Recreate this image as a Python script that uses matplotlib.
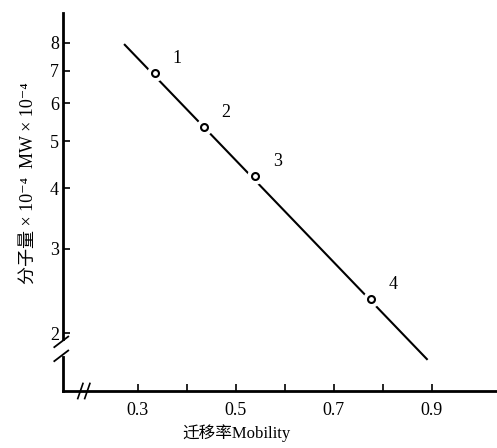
import matplotlib
matplotlib.use("Agg")
import matplotlib.pyplot as plt
from matplotlib.ticker import FixedLocator, NullLocator, FixedFormatter

# data
mobility = [0.335, 0.435, 0.539, 0.776]
mw = [6.93, 5.36, 4.25, 2.36]
point_labels = ["1", "2", "3", "4"]
fit_x = [0.274, 0.890]
fit_y = [7.93, 1.77]

x_major = [0.3, 0.5, 0.7, 0.9]
x_minor = [0.4, 0.6, 0.8]
y_ticks = [2, 3, 4, 5, 6, 7, 8]

fam = ["Liberation Serif", "Noto Sans CJK SC", "DejaVu Sans"]
plt.rcParams["font.family"] = fam

fig = plt.figure(figsize=(4.97, 4.48), dpi=100)
ax = fig.add_axes([63 / 497, 1 - 391 / 448, 434 / 497, 378 / 448])

ax.set_yscale("log")
ax.set_xlim(0.148, 1.033)
ax.set_ylim(1.52, 9.23)

# fitted line, broken around the open circles
ax.plot(fit_x, fit_y, color="black", lw=1.5, zorder=2)
ax.plot(mobility, mw, ls="none", marker="o", ms=11, mfc="white", mec="white", zorder=3)
ax.plot(mobility, mw, ls="none", marker="o", ms=5, mfc="white", mec="black", mew=1.5, zorder=4)
for x, y, s in zip(mobility, mw, point_labels):
    ax.annotate(s, (x, y), xytext=(18, 6), textcoords="offset pixels",
                fontsize=13, ha="left", va="bottom")

for s in ["top", "right"]:
    ax.spines[s].set_visible(False)
for s in ["left", "bottom"]:
    ax.spines[s].set_linewidth(2)

ax.xaxis.set_major_locator(FixedLocator(x_major))
ax.xaxis.set_minor_locator(FixedLocator(x_minor))
ax.xaxis.set_major_formatter(FixedFormatter([str(v) for v in x_major]))
ax.yaxis.set_major_locator(FixedLocator(y_ticks))
ax.yaxis.set_minor_locator(NullLocator())
ax.yaxis.set_major_formatter(FixedFormatter([str(v) for v in y_ticks]))
ax.tick_params(axis="both", which="both", direction="in", length=5, width=1.2,
               labelsize=13)
ax.tick_params(axis="x", pad=8)
ax.tick_params(axis="y", pad=3)

# axis break marks
ax.plot([0, 0], [0.097, 0.127], color="white", lw=3, transform=ax.transAxes,
        clip_on=False, zorder=5)
for dy in (0.093, 0.130):
    ax.plot([-0.02, 0.012], [dy - 0.014, dy + 0.014], color="black", lw=1.3,
            transform=ax.transAxes, clip_on=False, zorder=6)
for dx in (0.04, 0.056):
    ax.plot([dx - 0.006, dx + 0.006], [-0.02, 0.02], color="black", lw=1.2,
            transform=ax.transAxes, clip_on=False)

ax.set_xlabel("迁移率Mobility", fontsize=12)
ax.xaxis.set_label_coords(173 / 434, -33 / 378)
ax.set_ylabel("分子量 × 10⁻⁴  MW × 10⁻⁴", fontsize=13)
ax.yaxis.set_label_coords(-26 / 434, (391 - 183) / 378)

fig.savefig("out.png", dpi=100)
